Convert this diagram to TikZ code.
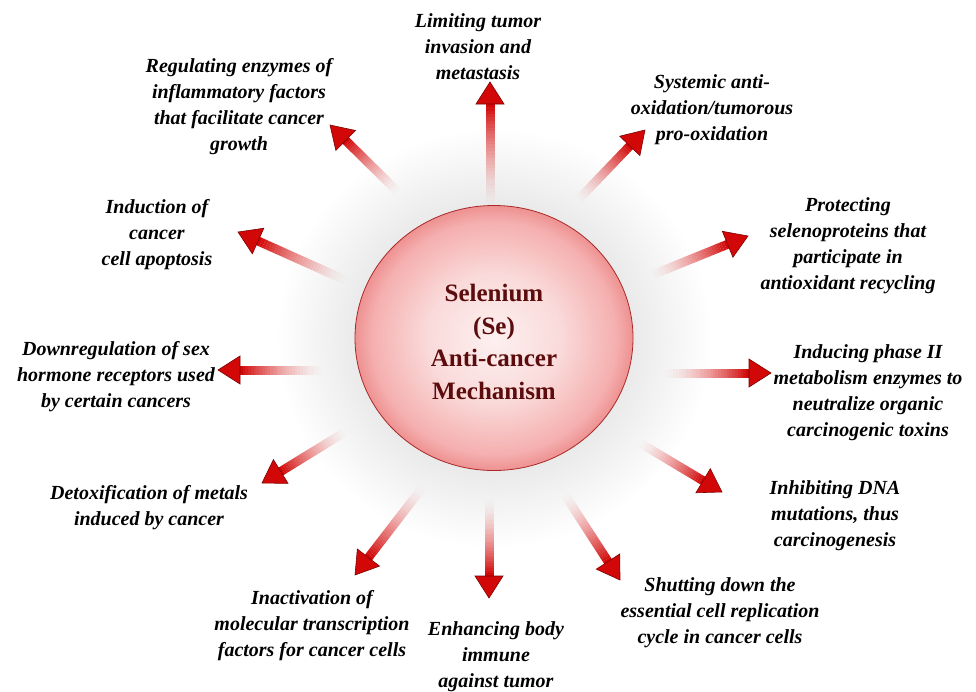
\documentclass[tikz,border=0pt]{standalone}
\usepackage{fontspec}
\setmainfont{Liberation Serif}
\usetikzlibrary{calc,shapes.geometric}
\definecolor{sered}{RGB}{210,8,8}
\definecolor{sedark}{RGB}{125,0,0}
\definecolor{setext}{RGB}{92,12,12}
\definecolor{seborder}{RGB}{170,40,40}
\definecolor{seA}{RGB}{253,240,240}
\definecolor{seB}{RGB}{250,218,218}
\definecolor{seC}{RGB}{245,175,175}
\definecolor{seD}{RGB}{238,145,145}
\definecolor{seG}{RGB}{234,234,234}
\pgfdeclareradialshading{seball}{\pgfpoint{0bp}{0bp}}{color(0bp)=(seA); color(12bp)=(seB); color(22bp)=(seC); color(25bp)=(seD); color(50bp)=(seD)}
\pgfdeclareradialshading{seglow}{\pgfpoint{0bp}{0bp}}{color(0bp)=(seG); color(16bp)=(seG); color(25bp)=(white); color(50bp)=(white)}
\newcommand\seArrow[2]{%
  \path ($(#2)!22pt!(#1)$) coordinate (hb);
  \foreach \i in {0,...,29}{%
    \pgfmathsetmacro\sa{\i/30}%
    \pgfmathsetmacro\sb{(\i+1)/30}%
    \pgfmathsetmacro\so{((\i+1)/30)^1.5}%
    \draw[shaft, draw opacity=\so] ($(#1)!\sa!(hb)$) -- ($(#1)!\sb!(hb)$);
  }%
  \draw[headtip] (#2) -- ($(hb)!14pt!90:(#2)$) -- ($(hb)!14pt!-90:(#2)$) -- cycle;
}
\begin{document}
\begin{tikzpicture}[x=1pt,y=-1pt,
  lbl/.style={font=\bfseries\itshape\fontsize{20}{26}\selectfont, align=center, inner sep=0pt},
  shaft/.style={line width=9pt, sered},
  headtip/.style={fill=sered, draw=sedark, line width=0.6pt, line join=miter}]
\useasboundingbox (0,0) rectangle (976,691);
\fill[white] (0,0) rectangle (976,691);
% glow
\shade[shading=seglow] (494,338) ellipse [x radius=218, y radius=210];
% coordinates
\coordinate (t1) at (490,205);  \coordinate (h1) at (490,82);
\coordinate (t2) at (578,200);  \coordinate (h2) at (645,130);
\coordinate (t3) at (652,275);  \coordinate (h3) at (748,236);
\coordinate (t4) at (665,373);  \coordinate (h4) at (771,373);
\coordinate (t5) at (640,443);  \coordinate (h5) at (722,492);
\coordinate (t6) at (565,495);  \coordinate (h6) at (620,580);
\coordinate (t7) at (489,500);  \coordinate (h7) at (489,598);
\coordinate (t8) at (422,488);  \coordinate (h8) at (355,575);
\coordinate (t9) at (345,432);  \coordinate (h9) at (262,483);
\coordinate (t10) at (322,370); \coordinate (h10) at (218,370);
\coordinate (t11) at (345,280); \coordinate (h11) at (238,232);
\coordinate (t12) at (398,192); \coordinate (h12) at (330,125);
\seArrow{t1}{h1}
\seArrow{t2}{h2}
\seArrow{t3}{h3}
\seArrow{t4}{h4}
\seArrow{t5}{h5}
\seArrow{t6}{h6}
\seArrow{t7}{h7}
\seArrow{t8}{h8}
\seArrow{t9}{h9}
\seArrow{t10}{h10}
\seArrow{t11}{h11}
\seArrow{t12}{h12}
% centre
\node[ellipse, minimum width=278pt, minimum height=265pt, shading=seball, draw=seborder, line width=0.8pt] (se) at (494,338) {};
\node[text=setext, align=center, inner sep=0pt, font=\bfseries\fontsize{25}{32.5}\selectfont] (setitle) at (494,342)
  {Selenium\\(Se)\\Anti-cancer\\Mechanism};
% labels
\node[lbl] (l1) at (478,47) {Limiting tumor\\invasion and\\metastasis};
\node[lbl] (l2) at (712,110) {Systemic anti-\\oxidation/tumorous\\pro-oxidation};
\node[lbl] (l3) at (848,246) {Protecting\\selenoproteins that\\participate in\\antioxidant recycling};
\node[lbl] (l4) at (868,393) {Inducing phase II\\metabolism enzymes to\\neutralize organic\\carcinogenic toxins};
\node[lbl] (l5) at (835,516) {Inhibiting DNA\\mutations, thus\\carcinogenesis};
\node[lbl] (l6) at (720,613) {Shutting down the\\essential cell replication\\cycle in cancer cells};
\node[lbl] (l7) at (496,657) {Enhancing body\\immune\\against tumor};
\node[lbl] (l8) at (312,626) {Inactivation of\\molecular transcription\\factors for cancer cells};
\node[lbl] (l9) at (149,508) {Detoxification of metals\\induced by cancer};
\node[lbl] (l10) at (116,377) {Downregulation of sex\\hormone receptors used\\by certain cancers};
\node[lbl] (l11) at (157,235) {Induction of\\cancer\\cell apoptosis};
\node[lbl] (l12) at (239,107) {Regulating enzymes of\\inflammatory factors\\that facilitate cancer\\growth};
\end{tikzpicture}
\end{document}
